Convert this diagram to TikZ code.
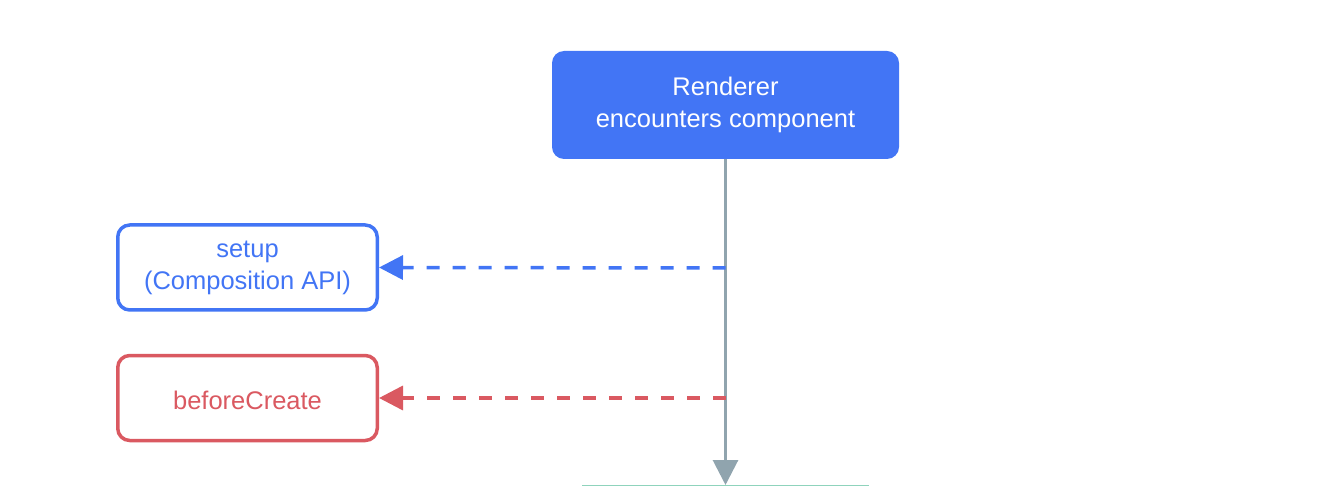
\documentclass[tikz,border=0pt]{standalone}
\usepackage{fontspec}
\setmainfont{Liberation Sans}
\usetikzlibrary{arrows.meta}

\definecolor{vueblue}{HTML}{4275F5}
\definecolor{vuered}{HTML}{DA5961}
\definecolor{flowgray}{HTML}{90A4AE}
\definecolor{vuegreen}{HTML}{8FD3BC}

\begin{document}
\begin{tikzpicture}[x=1pt, y=-1pt,
    boxtext/.style={font=\fontsize{25.5}{32}\selectfont, align=center, inner sep=0pt,
      execute at begin node={\rule{0pt}{24pt}}},
    mainbox/.style={boxtext, fill=vueblue, text=white, rounded corners=12pt,
      minimum width=347pt, minimum height=108pt},
    hookbox/.style={boxtext, draw=#1, text=#1, line width=3.5pt, rounded corners=12pt,
      minimum width=259.5pt, minimum height=85pt},
    hookarrow/.style={draw=#1, line width=3.5pt, dash pattern=on 13pt off 13pt,
      -{Triangle[length=24pt, width=24pt]}}]
  % page frame
  \useasboundingbox (0,0) rectangle (1320,486);

  % the boxes
  \node[mainbox] (renderer) at (725.5,105) {Renderer\\encounters component};
  \node[hookbox=vueblue] (setup) at (247.5,267.5) {setup\\(Composition API)};
  \node[hookbox=vuered] (beforecreate) at (247.5,398) {beforeCreate};

  % points on the main line
  \coordinate (setupfork) at (725.5,268);
  \coordinate (createfork) at (725.5,398);
  \coordinate (flowend) at (725.5,485);

  % main line down
  \draw[flowgray, line width=3pt, -{Triangle[length=25pt, width=25pt]}] (renderer.south) -- (flowend);

  % hooks
  \draw[hookarrow=vueblue] (setupfork) -- (setup.east);
  \draw[hookarrow=vuered] (createfork) -- (beforecreate.east);

  % top of the next box, cut by the edge
  \draw[vuegreen, line width=3pt] (582,486) -- (869,486);
\end{tikzpicture}
\end{document}
